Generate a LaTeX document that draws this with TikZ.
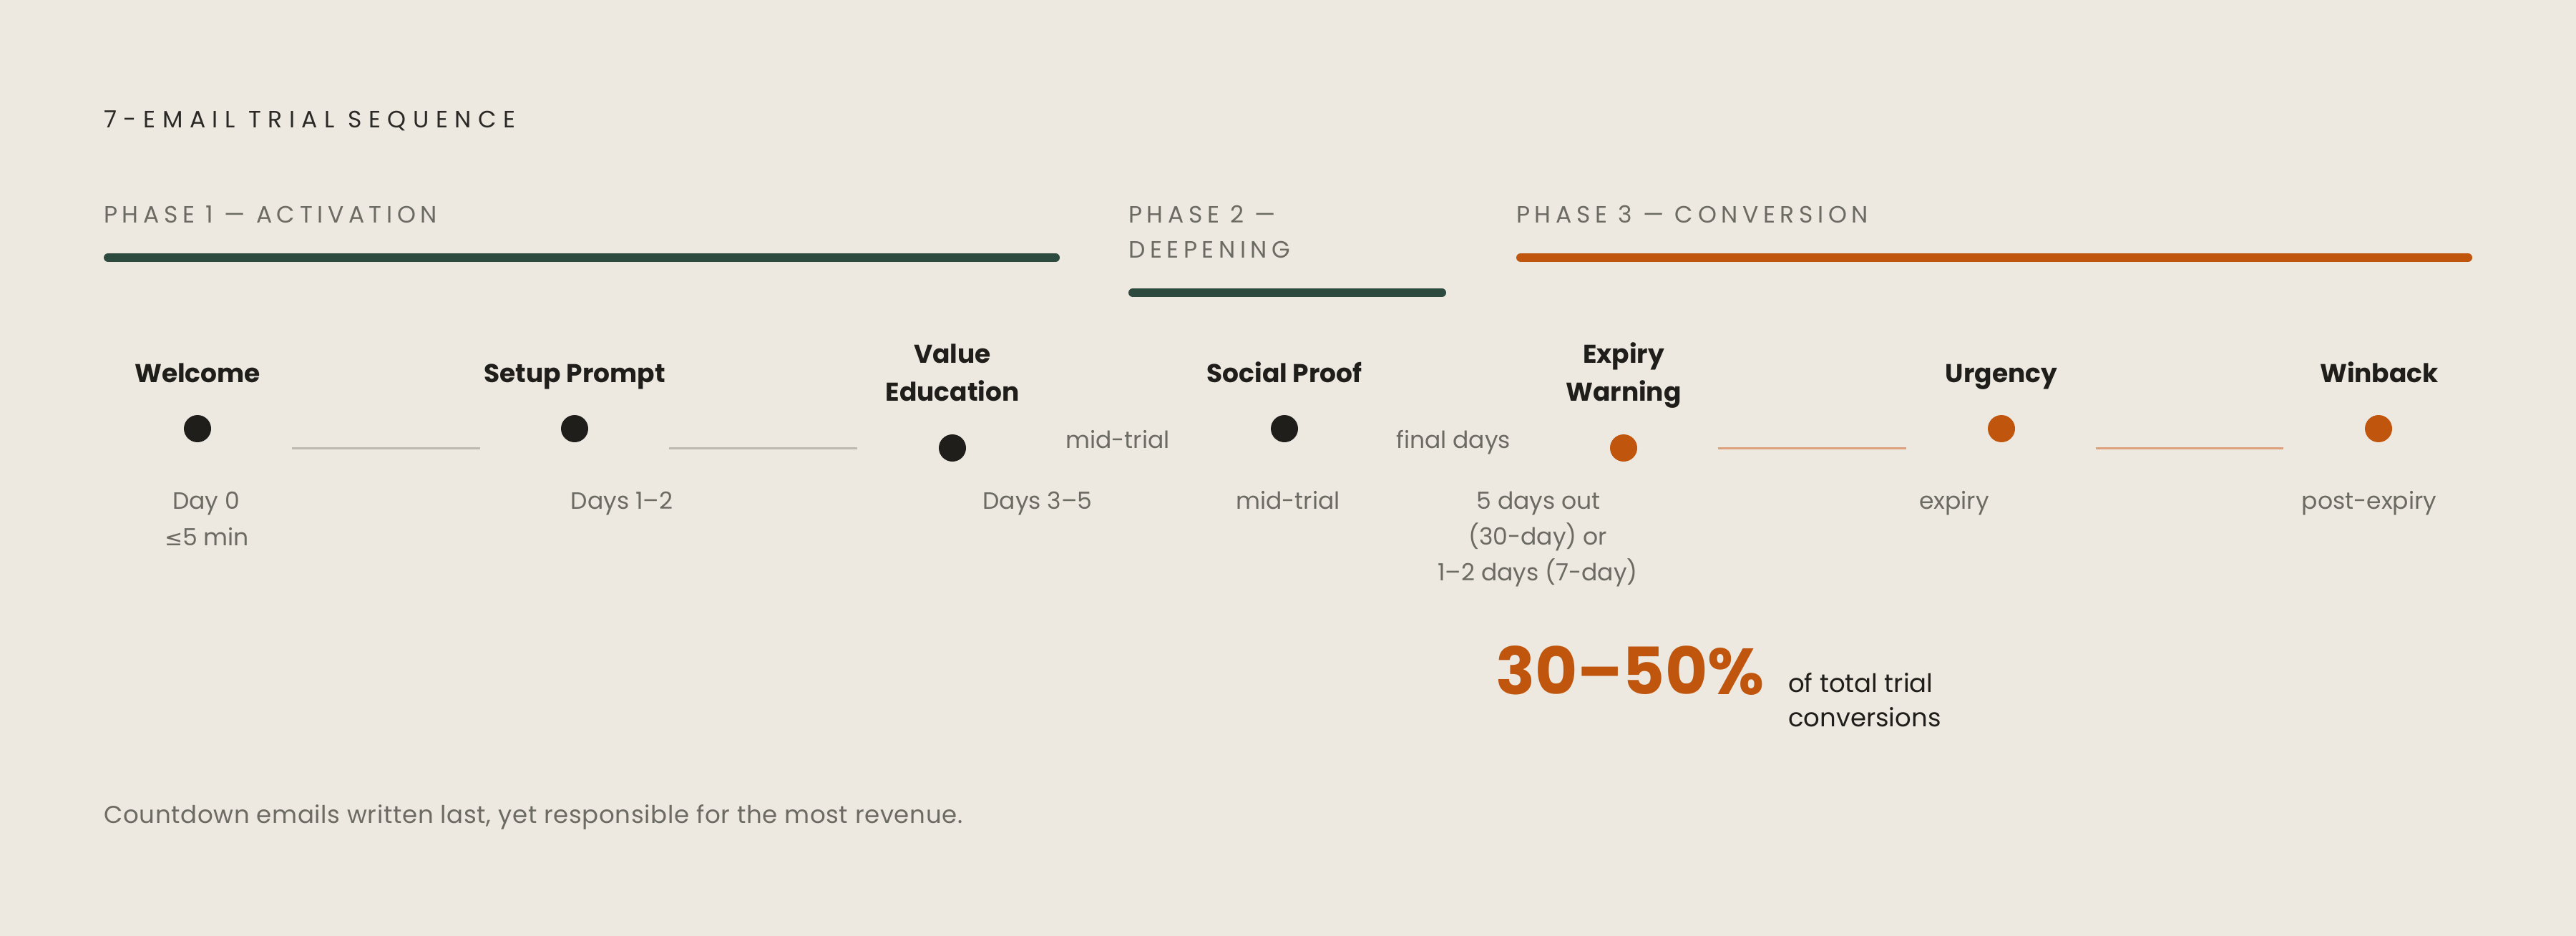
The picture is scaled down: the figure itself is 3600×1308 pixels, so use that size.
\documentclass[tikz,border=0pt]{standalone}
\usepackage{fontspec}
\setmainfont{Poppins}
\newfontfamily\symfont{DejaVu Sans}
\definecolor{bg}{HTML}{EDE9E1}
\definecolor{ink}{HTML}{1F1E1A}
\definecolor{titleink}{HTML}{2A2925}
\definecolor{muted}{HTML}{6B6A63}
\definecolor{forest}{HTML}{2D4A3F}
\definecolor{rust}{HTML}{C0560E}
\definecolor{rustlight}{HTML}{DCA17B}
\definecolor{rule}{HTML}{BDB9B0}
\tikzset{
  x=1pt, y=-1pt,
  titletext/.style={anchor=base west, inner sep=0pt, text=titleink,
    font=\fontsize{33}{40}\selectfont\addfontfeature{LetterSpace=29}},
  phasetext/.style={anchor=base west, inner sep=0pt, text=muted,
    font=\fontsize{33}{40}\selectfont\addfontfeature{LetterSpace=20}},
  phasebar/.style={line width=12pt, line cap=round},
  steplabel/.style={anchor=base, inner sep=0pt, text=ink,
    font=\fontsize{36}{42}\selectfont\bfseries},
  subtext/.style={anchor=base, inner sep=0pt, text=muted,
    font=\fontsize{33}{40}\selectfont},
  dotnode/.style={circle, inner sep=0pt, minimum size=38pt, fill=#1},
  link/.style={line width=3pt, draw=#1},
  bignum/.style={anchor=base west, inner sep=0pt, text=rust,
    font=\fontsize{91}{100}\selectfont\bfseries},
  notetext/.style={anchor=base west, inner sep=0pt, text=ink,
    font=\fontsize{35.5}{42}\selectfont},
  foottext/.style={anchor=base west, inner sep=0pt, text=muted,
    font=\fontsize{34}{40}\selectfont\addfontfeature{LetterSpace=2}},
}
\begin{document}
\begin{tikzpicture}
\fill[bg] (0,0) rectangle (3600,1308);
\useasboundingbox (0,0) rectangle (3600,1308);

% title
\node[titletext] (title) at (145,179) {7-EMAIL TRIAL SEQUENCE};

% phases
\node[phasetext] (ph1) at (145,311) {PHASE 1 — ACTIVATION};
\coordinate (ph1a) at (151,360); \coordinate (ph1b) at (1475,360);
\draw[phasebar, forest] (ph1a) -- (ph1b);

\node[phasetext] (ph2a) at (1577,311) {PHASE 2 —};
\node[phasetext] (ph2b) at (1577,360) {DEEPENING};
\coordinate (ph2s) at (1583,409); \coordinate (ph2e) at (2015,409);
\draw[phasebar, forest] (ph2s) -- (ph2e);

\node[phasetext] (ph3) at (2119,311) {PHASE 3 — CONVERSION};
\coordinate (ph3a) at (2125,360); \coordinate (ph3b) at (3449,360);
\draw[phasebar, rust] (ph3a) -- (ph3b);

% step labels
\node[steplabel] (l1) at (276,534) {Welcome};
\node[steplabel] (l2) at (803,534) {Setup Prompt};
\node[steplabel] (l3a) at (1331,507) {Value};
\node[steplabel] (l3b) at (1331,560) {Education};
\node[steplabel] (l4) at (1795,534) {Social Proof};
\node[steplabel] (l5a) at (2269,507) {Expiry};
\node[steplabel] (l5b) at (2269,560) {Warning};
\node[steplabel] (l6) at (2797,534) {Urgency};
\node[steplabel] (l7) at (3325,534) {Winback};

% dots
\node[dotnode=ink] (d1) at (276,599) {};
\node[dotnode=ink] (d2) at (803,599) {};
\node[dotnode=ink] (d3) at (1331,626) {};
\node[dotnode=ink] (d4) at (1795,599) {};
\node[dotnode=rust] (d5) at (2269,626) {};
\node[dotnode=rust] (d6) at (2797,599) {};
\node[dotnode=rust] (d7) at (3324,599) {};

% connectors
\coordinate (c1a) at (408,626); \coordinate (c1b) at (671,626);
\coordinate (c2a) at (935,626); \coordinate (c2b) at (1198,626);
\coordinate (c3a) at (2401,626); \coordinate (c3b) at (2664,626);
\coordinate (c4a) at (2929,626); \coordinate (c4b) at (3191,626);
\draw[link=rule] (c1a) -- (c1b);
\draw[link=rule] (c2a) -- (c2b);
\draw[link=rustlight] (c3a) -- (c3b);
\draw[link=rustlight] (c4a) -- (c4b);

% in-between labels
\node[subtext] (m1) at (1562,626) {mid-trial};
\node[subtext] (m2) at (2031,626) {final days};

% timing
\node[subtext] (t1a) at (288,711) {Day 0};
\node[subtext] (t1b) at (289,762) {{\symfont\fontsize{30}{36}\selectfont ≤}5 min};
\node[subtext] (t2) at (869,711) {Days 1–2};
\node[subtext] (t3) at (1450,711) {Days 3–5};
\node[subtext] (t4) at (1800,711) {mid-trial};
\node[subtext] (t5a) at (2150,711) {5 days out};
\node[subtext] (t5b) at (2149,761) {(30-day) or};
\node[subtext] (t5c) at (2149,811) {1–2 days (7-day)};
\node[subtext] (t6) at (2731,711) {expiry};
\node[subtext] (t7) at (3311,711) {post-expiry};

% stat
\node[bignum] (stat) at (2090,970) {30–50\%};
\node[notetext] (n1) at (2499,967) {of total trial};
\node[notetext] (n2) at (2499,1015) {conversions};

% footer
\node[foottext] (foot) at (145,1150) {Countdown emails written last, yet responsible for the most revenue.};
\end{tikzpicture}
\end{document}
